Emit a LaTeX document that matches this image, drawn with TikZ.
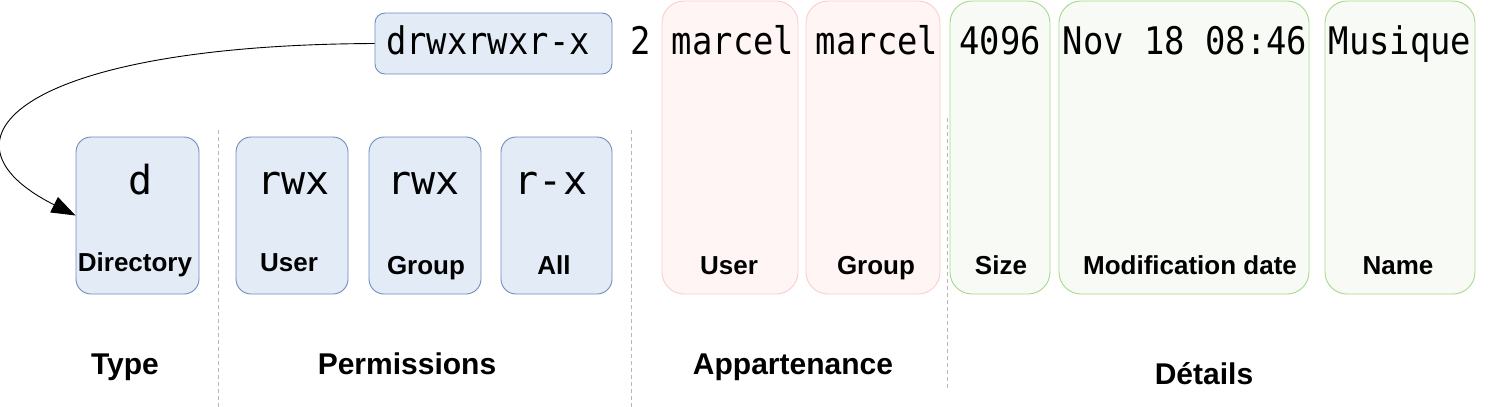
\documentclass[tikz,border=0pt]{standalone}
\usepackage{fontspec}
\setsansfont{Liberation Sans}
\newfontfamily\monotop[FakeStretch=0.89]{DejaVu Sans Mono}
\newfontfamily\monobig[FakeStretch=1.0]{DejaVu Sans Mono}
\usetikzlibrary{arrows.meta}
\definecolor{bfill}{HTML}{E2EBF6}
\definecolor{bdraw}{HTML}{6C8EBF}
\definecolor{rfill}{HTML}{FFF5F4}
\definecolor{rdraw}{HTML}{F8CFCC}
\definecolor{gfill}{HTML}{F8FBF5}
\definecolor{gdraw}{HTML}{A6D98B}
\definecolor{sepgray}{HTML}{B8B8B8}
\tikzset{
  bluebox/.style={draw=bdraw, fill=bfill, line width=0.9pt, rounded corners=15pt, inner sep=0pt},
  redbox/.style={draw=rdraw, fill=rfill, line width=0.9pt, rounded corners=22pt, inner sep=0pt},
  greenbox/.style={draw=gdraw, fill=gfill, line width=0.9pt, rounded corners=22pt, inner sep=0pt},
  toptxt/.style={anchor=base, inner sep=0pt, font=\monotop\fontsize{38}{44}\selectfont},
  bigtxt/.style={anchor=base, inner sep=0pt, font=\monobig\fontsize{40}{48}\selectfont},
  lbl/.style={anchor=base, inner sep=0pt, font=\sffamily\bfseries\fontsize{26}{30}\selectfont},
  cat/.style={anchor=base, inner sep=0pt, font=\sffamily\bfseries\fontsize{30}{34}\selectfont},
  sepline/.style={draw=sepgray, line width=0.8pt, dash pattern=on 4pt off 3pt},
  pointer/.style={draw=black, line width=0.9pt, -{Triangle[length=24pt,width=17pt]}}
}
\begin{document}
\begin{tikzpicture}[x=1pt,y=-1pt]
\useasboundingbox (0,0) rectangle (1500,407);
% separators
\draw[sepline] (218,130) -- (218,407);
\draw[sepline] (631,130) -- (631,407);
\draw[sepline] (947,118) -- (947,390);
% top permission string
\node[bluebox, rounded corners=10pt, minimum width=237pt, minimum height=61pt] (perm) at (493.5,43.5) {};
\node[toptxt] (permtxt) at (488,54.5) {drwxrwxr-x};
\node[toptxt] (links) at (641,54.5) {2};
% ownership boxes
\node[redbox, minimum width=136pt, minimum height=293pt] (ou) at (730,147.5) {};
\node[redbox, minimum width=134pt, minimum height=293pt] (og) at (873,147.5) {};
% details boxes
\node[greenbox, minimum width=100pt, minimum height=293pt] (sz) at (1000,147.5) {};
\node[greenbox, minimum width=250pt, minimum height=293pt] (dt) at (1184,147.5) {};
\node[greenbox, minimum width=150pt, minimum height=293pt] (nm) at (1400,147.5) {};
\node[toptxt] (outxt) at (733,54) {marcel};
\node[toptxt] (ogtxt) at (877,54) {marcel};
\node[toptxt] (sztxt) at (1000,54) {4096};
\node[toptxt] (dttxt) at (1185,54) {Nov 18 08:46};
\node[toptxt] (nmtxt) at (1400,54) {Musique};
\node[lbl] (oul) at (729,274) {User};
\node[lbl] (ogl) at (876,274) {Group};
\node[lbl] (szl) at (1001,274) {Size};
\node[lbl] (dtl) at (1190,274) {Modification date};
\node[lbl] (nml) at (1398,274) {Name};
% type and permission boxes
\node[bluebox, minimum width=123pt, minimum height=157pt] (dir) at (137.5,215.5) {};
\node[bluebox, minimum width=112pt, minimum height=157pt] (pu) at (292,215.5) {};
\node[bluebox, minimum width=112pt, minimum height=157pt] (pg) at (425,215.5) {};
\node[bluebox, minimum width=111pt, minimum height=157pt] (pa) at (556.5,215.5) {};
\node[bigtxt] (dirtxt) at (141,194) {d};
\node[bigtxt] (putxt) at (293.5,194) {rwx};
\node[bigtxt] (pgtxt) at (423.5,194) {rwx};
\node[bigtxt] (patxt) at (551,194) {r-x};
\node[lbl] (dirl) at (135,271) {Directory};
\node[lbl] (pul) at (289,271) {User};
\node[lbl] (pgl) at (426,274.5) {Group};
\node[lbl] (pal) at (554,274.5) {All};
% categories
\node[cat] (ctype) at (125,374) {Type};
\node[cat] (cperm) at (407,374) {Permissions};
\node[cat] (cown) at (793,374) {Appartenance};
\node[cat] (cdet) at (1204,384) {Détails};
% pointer
\draw[pointer] (perm.west) .. controls (20,45) and (-75,140) .. (dir.west);
\end{tikzpicture}
\end{document}
